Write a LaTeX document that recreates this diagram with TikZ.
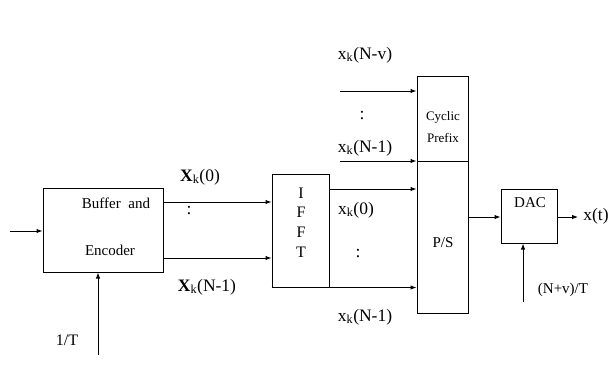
\documentclass[tikz,border=0pt]{standalone}
\usepackage{fontspec}
\setmainfont{Liberation Serif}
\usetikzlibrary{arrows.meta}
\begin{document}
\begin{tikzpicture}[x=1pt,y=-1pt,
  blk/.style={draw,line width=1pt,inner sep=0pt},
  arr/.style={line width=1pt,-{Latex[length=6pt,width=4.5pt]}},
  lbl/.style={inner sep=0pt,font=\fontsize{17.5}{17.5}\selectfont},
  txt/.style={inner sep=0pt,font=\fontsize{15}{15}\selectfont}]
\useasboundingbox[fill=white] (0,0) rectangle (610,389);
% blocks
\node[blk,minimum width=120pt,minimum height=84pt] (buf) at (103,230) {};
\node[txt] (b1) at (116,203) {Buffer\ \ and};
\node[txt] (b2) at (110,250) {Encoder};
\node[blk,minimum width=57pt,minimum height=113pt] (ifft) at (300.5,230.5) {};
\node[txt,font=\fontsize{16}{16}\selectfont] (i1) at (301,193) {I};
\node[txt,font=\fontsize{16}{16}\selectfont] (i2) at (301,212) {F};
\node[txt,font=\fontsize{16}{16}\selectfont] (i3) at (301,232) {F};
\node[txt,font=\fontsize{16}{16}\selectfont] (i4) at (301,252) {T};
\node[blk,minimum width=51pt,minimum height=85pt] (cp) at (442.5,118.5) {};
\node[inner sep=0pt,font=\fontsize{13}{13}\selectfont] (c1) at (443,117) {Cyclic};
\node[inner sep=0pt,font=\fontsize{13}{13}\selectfont] (c2) at (443,138) {Prefix};
\node[blk,minimum width=51pt,minimum height=152pt] (ps) at (442.5,237) {};
\node[txt] (p1) at (443,243) {P/S};
\node[blk,minimum width=56pt,minimum height=54pt] (dac) at (529,216) {};
\node[txt] (d1) at (530,203) {DAC};
% coordinates
\coordinate (inL) at (10,231);
\coordinate (clk1) at (98,355);
\coordinate (cpa) at (340,91);
\coordinate (cpb) at (340,161);
\coordinate (outR) at (578,217);
\coordinate (clk2) at (523,302);
% connectors
\draw[arr] (inL) -- (inL -| buf.west);
\draw[arr] (clk1) -- (clk1 |- buf.south);
\draw[arr] (buf.east |- 0,202) -- (ifft.west |- 0,202);
\draw[arr] (buf.east |- 0,258) -- (ifft.west |- 0,258);
\draw[arr] (ifft.east |- 0,189) -- (ps.west |- 0,189);
\draw[arr] (ifft.south west) -- (ps.west |- ifft.south);
\draw[arr] (cpa) -- (cpa -| cp.west);
\draw[arr] (cpb) -- (cpb -| cp.west);
\draw[arr] (ps.east |- 0,217) -- (dac.west |- 0,217);
\draw[arr] (dac.east |- outR) -- (outR);
\draw[arr] (clk2) -- (clk2 |- dac.south);
% labels
\node[lbl] (l1) at (200,177) {\textbf{X}\textsubscript{k}(0)};
\node[lbl] (l2) at (189,211) {:};
\node[lbl] (l3) at (207,287) {\textbf{X}\textsubscript{k}(N-1)};
\node[txt,font=\fontsize{16}{16}\selectfont] (l4) at (67,340) {1/T};
\node[lbl] (l5) at (365,55) {x\textsubscript{k}(N-v)};
\node[lbl] (l6) at (362,116) {:};
\node[lbl] (l7) at (365,148) {x\textsubscript{k}(N-1)};
\node[lbl] (l8) at (356,210) {x\textsubscript{k}(0)};
\node[lbl] (l9) at (358,254) {:};
\node[lbl] (l10) at (365,317) {x\textsubscript{k}(N-1)};
\node[lbl] (l11) at (596,216) {x(t)};
\node[txt] (l12) at (563,290) {(N+v)/T};
\end{tikzpicture}
\end{document}
